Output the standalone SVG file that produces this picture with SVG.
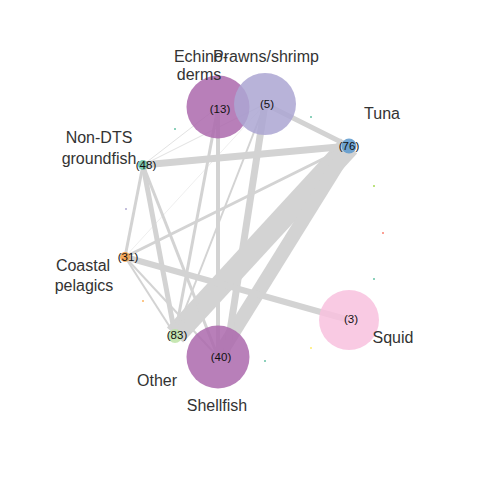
<svg xmlns="http://www.w3.org/2000/svg" width="480" height="480" viewBox="0 0 480 480">
<style>
.e{stroke:#d3d3d3;stroke-linecap:butt;fill:none}
.f{stroke:#e2e2e2;fill:none}
.n{opacity:0.85}
.lab{font-family:"Liberation Sans",Arial,sans-serif;font-size:16px;fill:#333;text-anchor:middle}
.num{font-family:"Liberation Sans",Arial,sans-serif;font-size:11.5px;fill:#111;text-anchor:middle}
</style>
<rect width="480" height="480" fill="#fff"/>
<g id="connectors">
<line class="f" x1="143" y1="165" x2="218" y2="107" stroke-width="1"/>
<line class="f" x1="143" y1="165" x2="265" y2="104" stroke-width="1"/>
<line class="f" x1="125" y1="257" x2="265" y2="104" stroke-width="0.6"/>
<line class="e" x1="349" y1="146" x2="175" y2="335" stroke-width="22"/>
<line class="e" x1="349" y1="146" x2="218" y2="357" stroke-width="14"/>
<line class="e" x1="265" y1="104" x2="226" y2="357" stroke-width="7"/>
<line class="e" x1="265" y1="104" x2="175" y2="335" stroke-width="2"/>
<line class="e" x1="218" y1="107" x2="218" y2="357" stroke-width="4"/>
<line class="e" x1="218" y1="107" x2="175" y2="335" stroke-width="3"/>
<line class="e" x1="265" y1="104" x2="349" y2="146" stroke-width="5"/>
<line class="e" x1="143" y1="165" x2="349" y2="146" stroke-width="7"/>
<line class="e" x1="143" y1="165" x2="175" y2="335" stroke-width="5"/>
<line class="e" x1="143" y1="165" x2="218" y2="357" stroke-width="3"/>
<line class="e" x1="143" y1="165" x2="125" y2="257" stroke-width="3"/>
<line class="e" x1="125" y1="257" x2="349" y2="146" stroke-width="3"/>
<line class="e" x1="125" y1="257" x2="349" y2="320" stroke-width="6"/>
<line class="e" x1="125" y1="257" x2="175" y2="335" stroke-width="2"/>
<line class="e" x1="125" y1="257" x2="218" y2="357" stroke-width="2"/>
</g>
<g id="dots">
<circle cx="175" cy="129" r="1" fill="#66c2a5"/>
<circle cx="311" cy="117" r="1" fill="#66c2a5"/>
<circle cx="374" cy="186" r="1" fill="#a6d854"/>
<circle cx="383" cy="233" r="1" fill="#fb8072"/>
<circle cx="374" cy="279" r="1" fill="#66c2a5"/>
<circle cx="126" cy="209" r="1" fill="#b2abd2"/>
<circle cx="143" cy="301" r="1" fill="#fdb462"/>
<circle cx="311" cy="348" r="1" fill="#ffed6f"/>
<circle cx="265" cy="361" r="1" fill="#66c2a5"/>
</g>
<g id="echinoderms">
<circle class="n" cx="218" cy="107" r="31.5" fill="#ab68ad"/>
<text class="num" x="220" y="113">(13)</text>
<text class="lab" x="201" y="62">Echino-</text>
<text class="lab" x="199" y="80">derms</text>
</g>
<g id="prawns">
<circle class="n" cx="265" cy="104" r="31" fill="#aca6d2"/>
<text class="num" x="267" y="108">(5)</text>
<text class="lab" x="266" y="62">Prawns/shrimp</text>
</g>
<g id="tuna">
<circle class="n" cx="349" cy="146" r="7.5" fill="#5b98cc"/>
<text class="num" x="349" y="150">(76)</text>
<text class="lab" x="382" y="119">Tuna</text>
</g>
<g id="nondts">
<circle class="n" cx="143" cy="165" r="5" fill="#66c2a5"/>
<text class="num" x="146" y="169">(48)</text>
<text class="lab" x="99" y="143">Non-DTS</text>
<text class="lab" x="99" y="164">groundfish</text>
</g>
<g id="coastal">
<circle class="n" cx="125" cy="257" r="5" fill="#f59a40"/>
<text class="num" x="128" y="261">(31)</text>
<text class="lab" x="83" y="271">Coastal</text>
<text class="lab" x="84" y="291">pelagics</text>
</g>
<g id="other">
<circle class="n" cx="175" cy="336" r="7" fill="#bde3a6"/>
<text class="num" x="177" y="339">(83)</text>
<text class="lab" x="157" y="386">Other</text>
</g>
<g id="shellfish">
<circle class="n" cx="218" cy="357" r="31.5" fill="#ab68ad"/>
<text class="num" x="221" y="361">(40)</text>
<text class="lab" x="217" y="411">Shellfish</text>
</g>
<g id="squid">
<circle class="n" cx="349" cy="320" r="30" fill="#f8c1de"/>
<text class="num" x="351" y="323">(3)</text>
<text class="lab" x="393" y="343">Squid</text>
</g>
</svg>
